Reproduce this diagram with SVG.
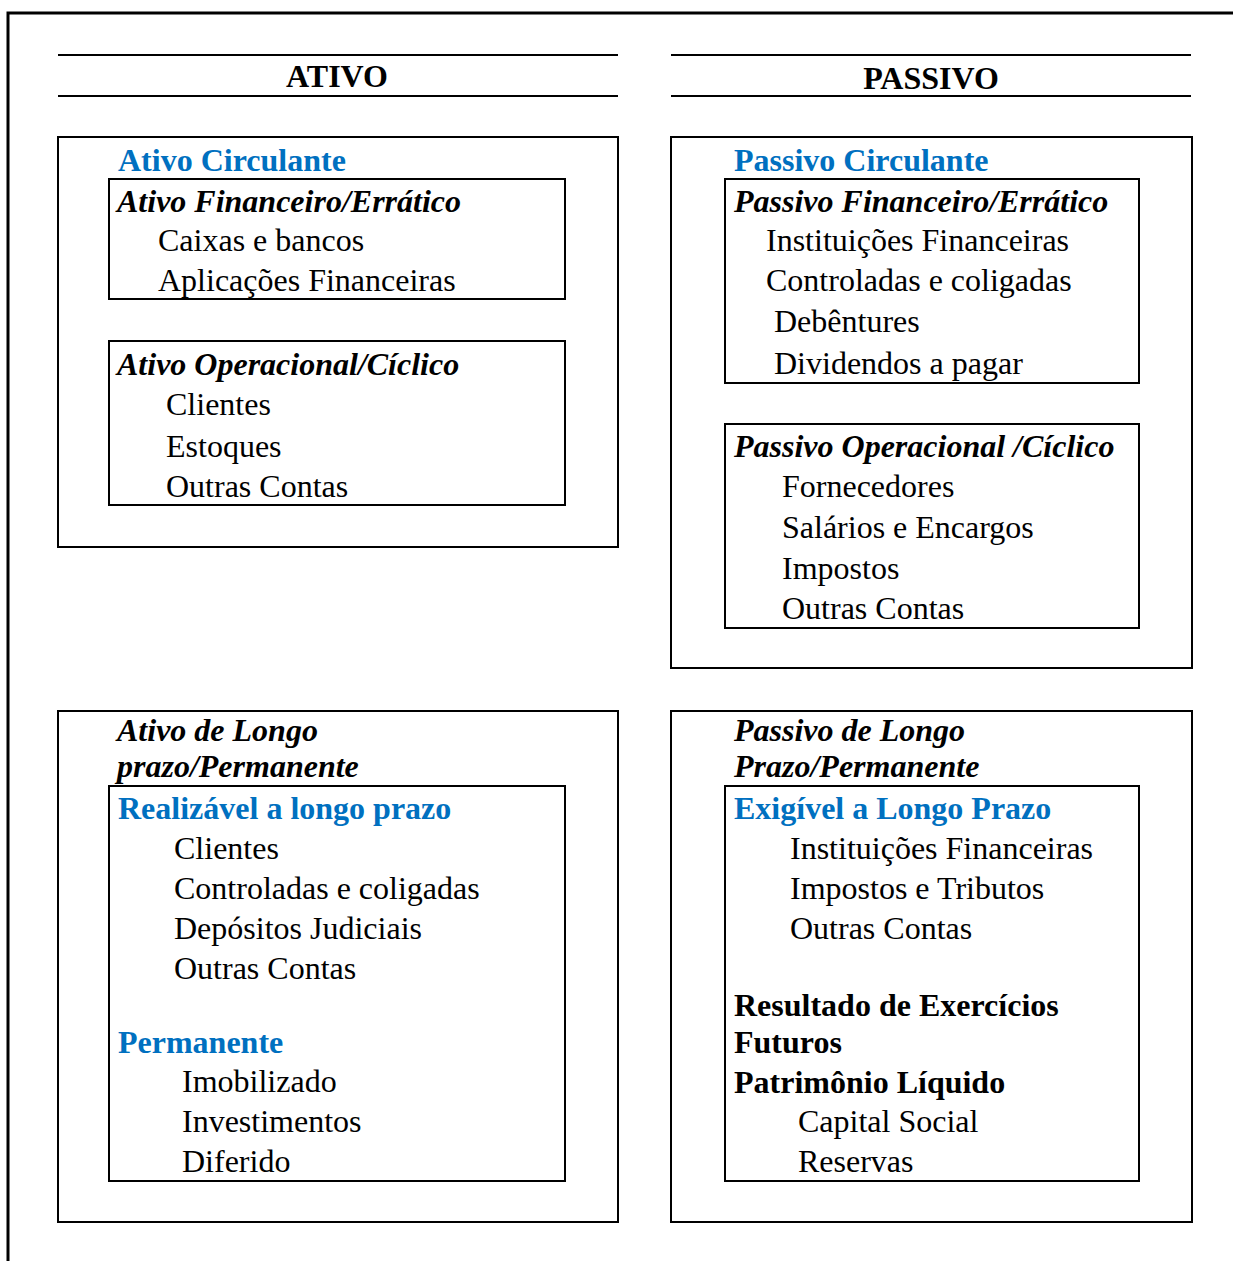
<svg xmlns="http://www.w3.org/2000/svg" width="1233" height="1261" viewBox="0 0 1233 1261">
<style>
text{font-family:"Liberation Serif","Times New Roman",serif;font-size:32px;fill:#000}
.h{font-weight:bold}
.bi{font-weight:bold;font-style:italic}
.blue{font-weight:bold;fill:#0070C0}
.box{fill:none;stroke:#000;stroke-width:2}
.rule{stroke:#000;stroke-width:2}
</style>
<rect width="1233" height="1261" fill="#fff"/>
<g id="frame">
<path d="M8 1261 V13 H1233" fill="none" stroke="#000" stroke-width="3"/>
</g>
<g id="header-ativo">
<line class="rule" x1="58" y1="55" x2="618" y2="55"/>
<line class="rule" x1="58" y1="96" x2="618" y2="96"/>
<text class="h" x="337" y="87" text-anchor="middle">ATIVO</text>
</g>
<g id="header-passivo">
<line class="rule" x1="671" y1="55" x2="1191" y2="55"/>
<line class="rule" x1="671" y1="96" x2="1191" y2="96"/>
<text class="h" x="931" y="89" text-anchor="middle">PASSIVO</text>
</g>
<g id="ativo-circulante">
<rect class="box" x="58" y="137" width="560" height="410"/>
<text class="blue" x="118" y="171">Ativo Circulante</text>
<g id="ativo-financeiro">
<rect class="box" x="109" y="179" width="456" height="120"/>
<text class="bi" x="117" y="212">Ativo Financeiro/Errático</text>
<text x="158" y="251">Caixas e bancos</text>
<text x="158" y="291">Aplicações Financeiras</text>
</g>
<g id="ativo-operacional">
<rect class="box" x="109" y="341" width="456" height="164"/>
<text class="bi" x="117" y="375">Ativo Operacional/Cíclico</text>
<text x="166" y="415">Clientes</text>
<text x="166" y="457">Estoques</text>
<text x="166" y="497">Outras Contas</text>
</g>
</g>
<g id="passivo-circulante">
<rect class="box" x="671" y="137" width="521" height="531"/>
<text class="blue" x="734" y="171">Passivo Circulante</text>
<g id="passivo-financeiro">
<rect class="box" x="725" y="179" width="414" height="204"/>
<text class="bi" x="734" y="212">Passivo Financeiro/Errático</text>
<text x="766" y="251">Instituições Financeiras</text>
<text x="766" y="291">Controladas e coligadas</text>
<text x="774" y="332">Debêntures</text>
<text x="774" y="374">Dividendos a pagar</text>
</g>
<g id="passivo-operacional">
<rect class="box" x="725" y="424" width="414" height="204"/>
<text class="bi" x="734" y="457">Passivo Operacional /Cíclico</text>
<text x="782" y="497">Fornecedores</text>
<text x="782" y="538">Salários e Encargos</text>
<text x="782" y="579">Impostos</text>
<text x="782" y="619">Outras Contas</text>
</g>
</g>
<g id="ativo-longo-prazo">
<rect class="box" x="58" y="711" width="560" height="511"/>
<text class="bi" x="117" y="741">Ativo de Longo</text>
<text class="bi" x="117" y="777">prazo/Permanente</text>
<g id="realizavel">
<rect class="box" x="109" y="786" width="456" height="395"/>
<text class="blue" x="118" y="819">Realizável a longo prazo</text>
<text x="174" y="859">Clientes</text>
<text x="174" y="899">Controladas e coligadas</text>
<text x="174" y="939">Depósitos Judiciais</text>
<text x="174" y="979">Outras Contas</text>
<text class="blue" x="118" y="1053">Permanente</text>
<text x="182" y="1092">Imobilizado</text>
<text x="182" y="1132">Investimentos</text>
<text x="182" y="1172">Diferido</text>
</g>
</g>
<g id="passivo-longo-prazo">
<rect class="box" x="671" y="711" width="521" height="511"/>
<text class="bi" x="734" y="741">Passivo de Longo</text>
<text class="bi" x="734" y="777">Prazo/Permanente</text>
<g id="exigivel">
<rect class="box" x="725" y="786" width="414" height="395"/>
<text class="blue" x="734" y="819">Exigível a Longo Prazo</text>
<text x="790" y="859">Instituições Financeiras</text>
<text x="790" y="899">Impostos e Tributos</text>
<text x="790" y="939">Outras Contas</text>
<text class="h" x="734" y="1016">Resultado de Exercícios</text>
<text class="h" x="734" y="1053">Futuros</text>
<text class="h" x="734" y="1093">Patrimônio Líquido</text>
<text x="798" y="1132">Capital Social</text>
<text x="798" y="1172">Reservas</text>
</g>
</g>
</svg>
